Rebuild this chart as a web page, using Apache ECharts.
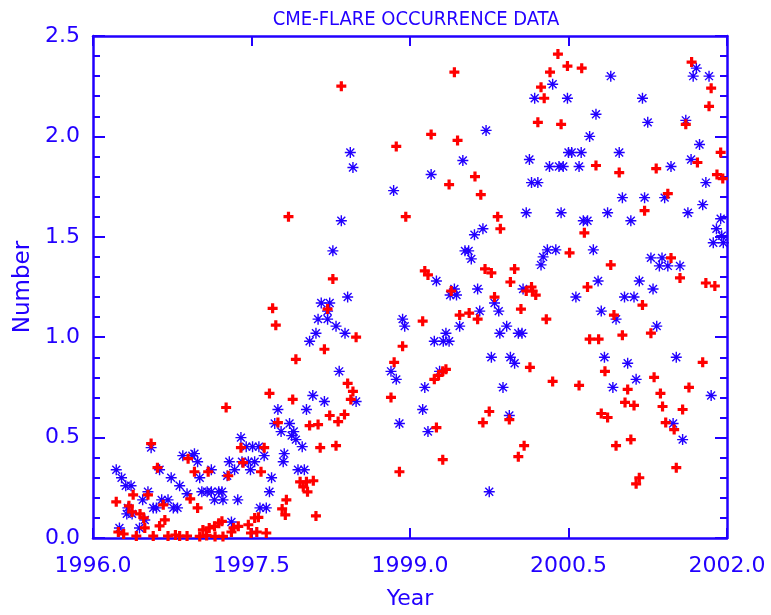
<!DOCTYPE html>
<html>
<head>
<meta charset="utf-8">
<script src="https://cdn.jsdelivr.net/npm/echarts@6/dist/echarts.min.js"></script>
<style>html,body{margin:0;padding:0;background:#fff;}#c{width:771px;height:615px;}</style>
</head>
<body>
<div id="c"></div>
<script>
// ---- Data ----
const titleText = 'CME-FLARE OCCURRENCE DATA';
const xTitle = 'Year';
const yTitle = 'Number';

// Blue asterisks
const cmeYear = [1996.22,1996.27,1996.31,1996.36,1996.32,1996.37,1996.33,1996.47,1996.52,1996.55,1996.63,1996.57,1996.60,1996.65,1996.71,1996.76,1996.80,1996.74,1996.82,1996.89,1996.85,1996.94,1996.96,1996.99,1997.01,1997.12,1997.03,1997.08,1997.12,1997.19,1997.22,1997.15,1997.23,1997.29,1997.34,1997.41,1997.40,1997.45,1997.51,1997.57,1997.62,1997.47,1997.53,1997.49,1997.37,1997.27,1997.58,1997.64,1997.67,1997.69,1997.80,1997.81,1997.75,1997.72,1997.86,1997.78,1997.90,1997.88,1997.92,1997.98,1997.94,1998.00,1996.25,1996.44,1996.49,1997.31,
1998.16,1998.24,1998.22,1998.13,1998.22,1998.30,1998.11,1998.05,1998.385,1998.41,1998.27,1998.35,1998.435,1998.46,1998.08,1998.19,1998.49,1998.02,1998.33,1998.82,1998.87,1998.90,1998.845,1998.93,1998.95,1999.12,1999.14,1999.17,1999.20,1999.23,1999.315,1999.37,1999.34,1999.28,1999.25,1999.42,1999.44,1999.38,1999.50,1999.52,1999.555,1999.58,1999.61,1999.69,1999.64,1999.66,1999.47,1999.72,1999.75,1999.77,1999.80,1999.84,1999.85,1999.88,1999.915,1999.95,1999.94,1999.99,
2000.025,2000.06,2000.07,2000.10,2000.13,2000.15,2000.21,2000.18,2000.35,2000.49,2000.24,2000.26,2000.30,2000.38,2000.32,2000.41,2000.45,2000.60,2000.43,2000.50,2000.53,2000.62,2000.57,2000.64,2000.68,2000.70,2000.735,2000.76,2000.78,2000.81,2000.84,2000.87,2000.90,2000.92,2000.95,2000.98,2001.01,2001.03,2001.06,2001.09,2001.12,2001.14,2001.17,2001.20,2001.22,2001.25,2001.28,2001.30,2001.335,2001.36,2001.385,2001.41,2001.44,2001.47,2001.49,2001.52,2001.555,2001.58,2001.61,2001.63,2001.66,2001.68,2001.71,2001.74,2001.77,2001.80,2001.83,2001.85,2001.87,2001.90,2001.94,2001.95,2001.965];
const cmeNumber = [0.34,0.30,0.26,0.26,0.12,0.12,0.15,0.19,0.23,0.45,0.34,0.15,0.15,0.19,0.19,0.15,0.15,0.30,0.26,0.22,0.41,0.41,0.42,0.38,0.30,0.34,0.23,0.23,0.23,0.23,0.23,0.19,0.19,0.38,0.34,0.38,0.50,0.455,0.455,0.455,0.41,0.38,0.38,0.34,0.19,0.31,0.15,0.15,0.23,0.30,0.38,0.42,0.64,0.57,0.57,0.53,0.53,0.51,0.49,0.455,0.34,0.34,0.05,0.05,0.09,0.08,
1.17,1.17,1.13,1.09,1.09,1.055,1.02,0.98,1.02,1.20,1.43,1.58,1.92,1.845,0.71,0.68,0.68,0.64,0.83,0.83,0.79,0.57,1.73,1.09,1.055,0.64,0.75,0.53,1.81,0.98,0.98,0.98,1.02,0.83,1.28,1.24,1.21,1.21,1.88,1.43,1.43,1.39,1.51,1.54,1.24,1.13,1.055,2.03,0.23,0.90,1.17,1.13,1.02,0.75,1.055,0.90,0.61,0.87,
1.02,1.02,1.24,1.62,1.885,1.77,1.77,2.19,2.26,2.19,1.36,1.40,1.435,1.435,1.85,1.85,1.85,1.85,1.62,1.92,1.92,1.92,1.20,1.58,1.58,2.00,1.435,2.11,1.28,1.13,0.90,1.62,2.30,0.75,1.09,1.92,1.695,1.20,0.87,1.58,1.20,0.79,1.28,2.19,1.695,2.07,1.395,1.24,1.055,1.355,1.395,1.695,1.355,1.85,0.57,0.90,1.355,0.49,2.08,1.62,1.885,2.30,2.34,1.96,1.66,1.77,2.30,0.71,1.47,1.54,1.59,1.505,1.47];

// Red pluses
const flareYear = [1996.22,1996.24,1996.29,1996.34,1996.37,1996.38,1996.41,1996.445,1996.48,1996.49,1996.52,1996.55,1996.57,1996.61,1996.63,1996.665,1996.68,1996.71,1996.78,1996.82,1996.89,1996.90,1996.92,1996.96,1996.99,1997.01,1997.04,1997.075,1997.09,1997.10,1997.15,1997.155,1997.19,1997.22,1997.23,1997.26,1997.28,1997.31,1997.33,1997.375,1997.40,1997.42,1997.47,1997.495,1997.53,1997.55,1997.565,1997.59,1997.62,1997.64,1997.67,1997.70,1997.73,1997.75,1997.79,1997.82,1997.83,1997.85,1997.89,1997.92,1997.96,1997.99,1998.02,1998.03,1998.05,1998.085,1998.11,1998.13,1998.15,1998.19,1998.22,1998.24,1998.27,1998.30,1998.32,1998.35,1998.38,1998.41,1998.44,1998.46,1998.49,
1998.82,1998.85,1998.87,1998.90,1998.93,1998.96,1999.12,1999.14,1999.17,1999.20,1999.23,1999.25,1999.27,1999.31,1999.31,1999.34,1999.37,1999.39,1999.42,1999.45,1999.47,1999.56,1999.615,1999.64,1999.67,1999.69,1999.71,1999.75,1999.77,1999.80,1999.83,1999.855,1999.94,1999.95,1999.99,
2000.025,2000.05,2000.08,2000.10,2000.135,2000.15,2000.16,2000.19,2000.21,2000.24,2000.27,2000.29,2000.325,2000.35,2000.40,2000.43,2000.49,2000.51,2000.60,2000.625,2000.65,2000.68,2000.70,2000.76,2000.785,2000.81,2000.845,2000.87,2000.90,2000.93,2000.95,2000.98,2001.01,2001.035,2001.06,2001.09,2001.12,2001.14,2001.17,2001.20,2001.22,2001.28,2001.31,2001.33,2001.37,2001.39,2001.42,2001.44,2001.47,2001.50,2001.52,2001.555,2001.58,2001.61,2001.64,2001.665,2001.72,2001.77,2001.80,2001.83,2001.85,2001.885,2001.905,2001.94,2001.96];
const flareNumber = [0.18,0.03,0.02,0.16,0.13,0.215,0.01,0.12,0.10,0.05,0.215,0.47,0.01,0.35,0.06,0.165,0.09,0.01,0.015,0.01,0.01,0.395,0.195,0.33,0.15,0.008,0.04,0.013,0.33,0.05,0.058,0.008,0.074,0.083,0.008,0.65,0.31,0.03,0.05,0.058,0.45,0.375,0.066,0.025,0.10,0.03,0.103,0.33,0.45,0.025,0.72,1.144,1.06,0.575,0.145,0.115,0.19,1.60,0.69,0.89,0.28,0.255,0.28,0.23,0.56,0.285,0.11,0.565,0.45,0.94,1.14,0.61,1.29,0.46,0.58,2.25,0.615,0.77,0.69,0.73,1.00,
0.70,0.875,1.95,0.33,0.955,1.60,1.08,1.33,1.31,2.01,0.79,0.55,0.81,0.83,0.39,0.84,1.76,1.23,2.32,1.98,1.11,1.12,1.80,1.09,1.71,0.575,1.34,0.63,1.32,1.20,1.60,1.54,0.59,1.275,1.34,
0.405,1.14,0.46,1.23,0.85,1.25,1.23,1.21,2.07,2.245,2.19,1.09,2.32,0.78,2.41,2.06,2.35,1.42,0.76,2.34,1.52,1.25,0.99,1.855,0.99,0.62,0.83,0.60,1.36,1.11,0.46,1.82,1.01,0.675,0.74,0.49,0.66,0.27,0.30,1.16,1.63,1.02,0.80,1.84,0.72,0.655,0.575,1.715,1.395,0.54,0.35,1.295,0.64,2.06,0.75,2.37,1.87,0.875,1.27,2.15,2.24,1.255,1.81,1.92,1.79];

const xMin = 1996.0, xMax = 2002.0, xStep = 1.5;
const yMin = 0.0, yMax = 2.5, yStep = 0.5;

// ---- Styling ----
const BLUE = '#2200ff';
const RED = '#ff0000';
const FONT = 'DejaVu Sans';

function pairs(xs, ys) { return xs.map((x, i) => [x, ys[i]]); }

const asterisk = 'path://M0,-5L0,5M-5,0L5,0M-3.6,-3.6L3.6,3.6M-3.6,3.6L3.6,-3.6';
const plus = 'path://M-1.6,-5H1.6V-1.6H5V1.6H1.6V5H-1.6V1.6H-5V-1.6H-1.6Z';

const axisLineStyle = { color: BLUE, width: 2.5 };
function xAx(pos, showLabels) {
  return {
    type: 'value', position: pos, min: xMin, max: xMax, interval: xStep,
    axisLine: { show: true, onZero: false, lineStyle: axisLineStyle },
    axisTick: { show: true, inside: true, length: 10, lineStyle: { color: BLUE, width: 2 } },
    minorTick: { show: false },
    splitLine: { show: false },
    axisLabel: showLabels ? {
      show: true, color: BLUE, fontFamily: FONT, fontSize: 22, margin: 17,
      showMinLabel: true, showMaxLabel: true,
      formatter: v => v.toFixed(1)
    } : { show: false },
    name: showLabels ? xTitle : '',
    nameLocation: 'middle', nameGap: 50,
    nameTextStyle: { color: BLUE, fontFamily: FONT, fontSize: 22 }
  };
}
function yAx(pos, showLabels) {
  return {
    type: 'value', position: pos, min: yMin, max: yMax, interval: yStep,
    axisLine: { show: true, onZero: false, lineStyle: axisLineStyle },
    axisTick: { show: true, inside: true, length: 12, lineStyle: { color: BLUE, width: 2 } },
    minorTick: { show: true, splitNumber: 5, length: 7, lineStyle: { color: BLUE, width: 2 } },
    splitLine: { show: false },
    minorSplitLine: { show: false },
    axisLabel: showLabels ? {
      show: true, color: BLUE, fontFamily: FONT, fontSize: 22, margin: 13,
      showMinLabel: true, showMaxLabel: true,
      formatter: v => v.toFixed(1)
    } : { show: false },
    name: showLabels ? yTitle : '',
    nameLocation: 'middle', nameGap: 58, nameRotate: 90,
    nameTextStyle: { color: BLUE, fontFamily: FONT, fontSize: 23 }
  };
}

const chart = echarts.init(document.getElementById('c'), null, { renderer: 'canvas' });
chart.setOption({
  backgroundColor: '#ffffff',
  animation: false,
  title: {
    text: titleText, left: 411, textAlign: 'center', top: 5,
    textStyle: { color: BLUE, fontFamily: '"DejaVu Sans Condensed", "DejaVu Sans"', fontSize: 20, fontWeight: 'normal' }
  },
  grid: { left: 93, right: 44, top: 36, bottom: 75, containLabel: false },
  xAxis: [xAx('bottom', true), xAx('top', false)],
  yAxis: [yAx('left', true), yAx('right', false)],
  series: [
    {
      type: 'scatter', xAxisIndex: 0, yAxisIndex: 0, clip: false,
      symbol: asterisk, symbolSize: 11,
      itemStyle: { color: BLUE, borderColor: BLUE, borderWidth: 1.4, opacity: 1 },
      data: pairs(cmeYear, cmeNumber)
    },
    {
      type: 'scatter', xAxisIndex: 0, yAxisIndex: 0, clip: false,
      symbol: plus, symbolSize: 10,
      itemStyle: { color: RED, borderWidth: 0, opacity: 1 },
      data: pairs(flareYear, flareNumber)
    }
  ]
});
</script>
</body>
</html>
